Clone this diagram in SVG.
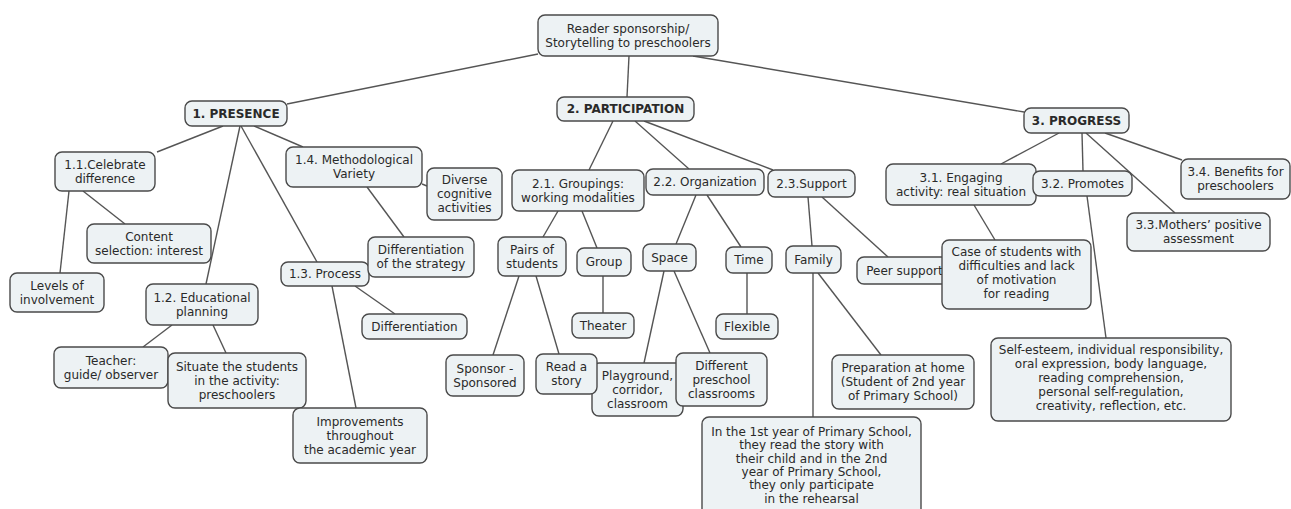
<svg xmlns="http://www.w3.org/2000/svg" width="1291" height="509" viewBox="0 0 1291 509">
<style>
.n rect{fill:#edf2f4;stroke:#4a4a4a;stroke-width:1.4}
.n text{font-family:"DejaVu Sans",sans-serif;font-size:12px;fill:#2a2a2a;text-anchor:middle}
.n text.b{font-weight:bold}
#connectors line{stroke:#555;stroke-width:1.4}
</style>
<rect width="1291" height="509" fill="#fff"/>
<g id="connectors">
<line x1="538" y1="54" x2="287" y2="104"/>
<line x1="629" y1="56" x2="627" y2="97"/>
<line x1="693" y1="56" x2="1024" y2="112"/>
<line x1="223" y1="126" x2="157" y2="152"/>
<line x1="240" y1="126" x2="206" y2="284"/>
<line x1="241" y1="126" x2="317" y2="262"/>
<line x1="254" y1="126" x2="303" y2="147"/>
<line x1="83" y1="191" x2="125" y2="224"/>
<line x1="69" y1="191" x2="60" y2="273"/>
<line x1="422" y1="184" x2="427" y2="186"/>
<line x1="367" y1="187" x2="404" y2="237"/>
<line x1="172" y1="325" x2="143" y2="347"/>
<line x1="213" y1="325" x2="226" y2="353"/>
<line x1="355" y1="286" x2="395" y2="314"/>
<line x1="332" y1="286" x2="356" y2="408"/>
<line x1="613" y1="121" x2="589" y2="170"/>
<line x1="635" y1="121" x2="689" y2="169"/>
<line x1="644" y1="121" x2="773" y2="170"/>
<line x1="558" y1="211" x2="543" y2="237"/>
<line x1="582" y1="211" x2="597" y2="248"/>
<line x1="519" y1="276" x2="493" y2="355"/>
<line x1="536" y1="276" x2="559" y2="354"/>
<line x1="603" y1="276" x2="603" y2="313"/>
<line x1="696" y1="195" x2="676" y2="244"/>
<line x1="707" y1="195" x2="741" y2="247"/>
<line x1="664" y1="271" x2="644" y2="363"/>
<line x1="674" y1="271" x2="710" y2="353"/>
<line x1="747" y1="273" x2="747" y2="314"/>
<line x1="808" y1="197" x2="812" y2="246"/>
<line x1="822" y1="197" x2="888" y2="257"/>
<line x1="813" y1="273" x2="813" y2="417"/>
<line x1="818" y1="273" x2="881" y2="355"/>
<line x1="1059" y1="133" x2="1001" y2="164"/>
<line x1="1082" y1="133" x2="1083" y2="171"/>
<line x1="1086" y1="133" x2="1175" y2="213"/>
<line x1="1105" y1="133" x2="1182" y2="160"/>
<line x1="974" y1="205" x2="995" y2="240"/>
<line x1="1087" y1="196" x2="1106" y2="338"/>
</g>
<g id="root" class="n"><rect x="538" y="15" width="180" height="41" rx="7"/><text x="628" y="32.5">Reader sponsorship/</text><text x="628" y="46.5">Storytelling to preschoolers</text></g>
<g id="presence" class="n"><rect x="185" y="101" width="102" height="25" rx="7"/><text class="b" x="236" y="117.5">1. PRESENCE</text></g>
<g id="participation" class="n"><rect x="557" y="97" width="137" height="24" rx="7"/><text class="b" x="625.5" y="113">2. PARTICIPATION</text></g>
<g id="progress" class="n"><rect x="1024" y="108" width="105" height="25" rx="7"/><text class="b" x="1076.5" y="124.5">3. PROGRESS</text></g>
<g id="n11" class="n"><rect x="55" y="152" width="100" height="39" rx="7"/><text x="105" y="168.5">1.1.Celebrate</text><text x="105" y="182.5">difference</text></g>
<g id="content" class="n"><rect x="87" y="224" width="124" height="39" rx="7"/><text x="149" y="240.5">Content</text><text x="149" y="254.5">selection: interest</text></g>
<g id="levels" class="n"><rect x="10" y="273" width="94" height="39" rx="7"/><text x="57" y="289.5">Levels of</text><text x="57" y="303.5">involvement</text></g>
<g id="n12" class="n"><rect x="146" y="284" width="112" height="41" rx="7"/><text x="202" y="301.5">1.2. Educational</text><text x="202" y="315.5">planning</text></g>
<g id="teacher" class="n"><rect x="54" y="347" width="114" height="41" rx="7"/><text x="111" y="364.5">Teacher:</text><text x="111" y="378.5">guide/ observer</text></g>
<g id="situate" class="n"><rect x="168" y="353" width="138" height="55" rx="7"/><text x="237" y="370.5">Situate the students</text><text x="237" y="384.5">in the activity:</text><text x="237" y="398.5">preschoolers</text></g>
<g id="n13" class="n"><rect x="281" y="262" width="88" height="24" rx="7"/><text x="325" y="278">1.3. Process</text></g>
<g id="differentiation" class="n"><rect x="362" y="314" width="105" height="25" rx="7"/><text x="414.5" y="330.5">Differentiation</text></g>
<g id="improvements" class="n"><rect x="293" y="408" width="134" height="55" rx="7"/><text x="360" y="425.5">Improvements</text><text x="360" y="439.5">throughout</text><text x="360" y="453.5">the academic year</text></g>
<g id="n14" class="n"><rect x="286" y="147" width="136" height="40" rx="7"/><text x="354" y="164">1.4. Methodological</text><text x="354" y="178">Variety</text></g>
<g id="diverse" class="n"><rect x="427" y="168" width="75" height="52" rx="7"/><text x="464.5" y="184">Diverse</text><text x="464.5" y="198">cognitive</text><text x="464.5" y="212">activities</text></g>
<g id="diffstrategy" class="n"><rect x="368" y="237" width="106" height="40" rx="7"/><text x="421" y="254">Differentiation</text><text x="421" y="268">of the strategy</text></g>
<g id="n21" class="n"><rect x="512" y="170" width="132" height="41" rx="7"/><text x="578" y="187.5">2.1. Groupings:</text><text x="578" y="201.5">working modalities</text></g>
<g id="n22" class="n"><rect x="646" y="169" width="118" height="26" rx="7"/><text x="705" y="186">2.2. Organization</text></g>
<g id="n23" class="n"><rect x="768" y="170" width="87" height="27" rx="7"/><text x="811.5" y="187.5">2.3.Support</text></g>
<g id="pairs" class="n"><rect x="498" y="237" width="68" height="39" rx="7"/><text x="532" y="253.5">Pairs of</text><text x="532" y="267.5">students</text></g>
<g id="group" class="n"><rect x="577" y="248" width="54" height="28" rx="7"/><text x="604" y="266">Group</text></g>
<g id="space" class="n"><rect x="643" y="244" width="53" height="27" rx="7"/><text x="669.5" y="261.5">Space</text></g>
<g id="time" class="n"><rect x="726" y="247" width="46" height="26" rx="7"/><text x="749" y="264">Time</text></g>
<g id="family" class="n"><rect x="786" y="246" width="55" height="27" rx="7"/><text x="813.5" y="263.5">Family</text></g>
<g id="theater" class="n"><rect x="572" y="313" width="62" height="25" rx="7"/><text x="603" y="329.5">Theater</text></g>
<g id="flexible" class="n"><rect x="716" y="314" width="62" height="25" rx="7"/><text x="747" y="330.5">Flexible</text></g>
<g id="sponsor" class="n"><rect x="446" y="355" width="78" height="41" rx="7"/><text x="485" y="372.5">Sponsor -</text><text x="485" y="386.5">Sponsored</text></g>
<g id="playground" class="n"><rect x="592" y="363" width="91" height="53" rx="7"/><text x="637.5" y="379.5">Playground,</text><text x="637.5" y="393.5">corridor,</text><text x="637.5" y="407.5">classroom</text></g>
<g id="readstory" class="n"><rect x="536" y="354" width="61" height="40" rx="7"/><text x="566.5" y="371">Read a</text><text x="566.5" y="385">story</text></g>
<g id="different" class="n"><rect x="676" y="353" width="91" height="53" rx="7"/><text x="721.5" y="369.5">Different</text><text x="721.5" y="383.5">preschool</text><text x="721.5" y="397.5">classrooms</text></g>
<g id="firstyear" class="n"><rect x="702" y="417" width="219" height="100" rx="7"/><text x="811.5" y="436">In the 1st year of Primary School,</text><text x="811.5" y="449.3">they read the story with</text><text x="811.5" y="462.6">their child and in the 2nd</text><text x="811.5" y="475.9">year of Primary School,</text><text x="811.5" y="489.2">they only participate</text><text x="811.5" y="502.5">in the rehearsal</text></g>
<g id="preparation" class="n"><rect x="832" y="355" width="142" height="54" rx="7"/><text x="903" y="372">Preparation at home</text><text x="903" y="386">(Student of 2nd year</text><text x="903" y="400">of Primary School)</text></g>
<g id="peer" class="n"><rect x="857" y="257" width="95" height="27" rx="7"/><text x="904.5" y="274.5">Peer support</text></g>
<g id="case" class="n"><rect x="942" y="240" width="149" height="69" rx="7"/><text x="1016.5" y="256">Case of students with</text><text x="1016.5" y="270">difficulties and lack</text><text x="1016.5" y="284">of motivation</text><text x="1016.5" y="298">for reading</text></g>
<g id="n31" class="n"><rect x="886" y="164" width="150" height="41" rx="7"/><text x="961" y="181.5">3.1. Engaging</text><text x="961" y="195.5">activity: real situation</text></g>
<g id="n32" class="n"><rect x="1033" y="171" width="99" height="25" rx="7"/><text x="1082.5" y="187.5">3.2. Promotes</text></g>
<g id="n33" class="n"><rect x="1127" y="213" width="143" height="38" rx="7"/><text x="1198.5" y="229">3.3.Mothers’ positive</text><text x="1198.5" y="243">assessment</text></g>
<g id="n34" class="n"><rect x="1181" y="159" width="109" height="40" rx="7"/><text x="1235.5" y="176">3.4. Benefits for</text><text x="1235.5" y="190">preschoolers</text></g>
<g id="selfesteem" class="n"><rect x="991" y="338" width="240" height="83" rx="7"/><text x="1111" y="354">Self-esteem, individual responsibility,</text><text x="1111" y="368">oral expression, body language,</text><text x="1111" y="382">reading comprehension,</text><text x="1111" y="396">personal self-regulation,</text><text x="1111" y="410">creativity, reflection, etc.</text></g>
</svg>
